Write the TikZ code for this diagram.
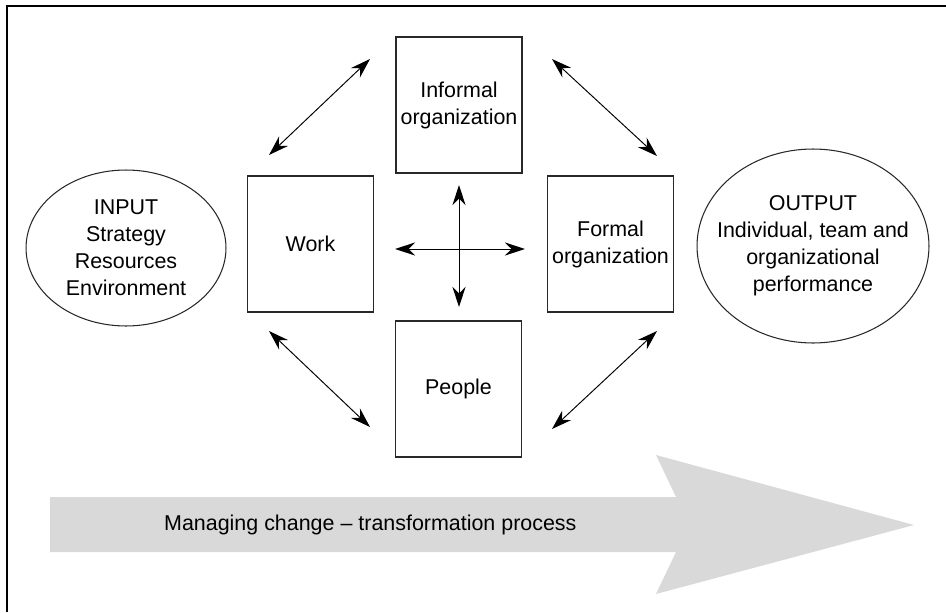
\documentclass[tikz,border=0pt]{standalone}
\usepackage{fontspec}
\setmainfont{Liberation Sans}
\usepackage{xcolor}
\usepackage{tikz}
\usetikzlibrary{arrows.meta}
\usetikzlibrary{shapes.geometric}
\definecolor{bandgray}{RGB}{217,217,217}
\definecolor{linegray}{RGB}{40,40,40}

\begin{document}
\begin{tikzpicture}[x=0.02cm,y=-0.02cm,
  font=\fontsize{12.2}{15.4}\selectfont,
  unit/.style={draw=linegray,line width=0.6pt,minimum width=2.52cm,minimum height=2.72cm,inner sep=0pt,align=center},
  oval/.style={draw=linegray,line width=0.6pt,ellipse,inner xsep=-0.4cm,inner ysep=-0.2cm,align=center},
  link/.style={line width=0.55pt,{Stealth[length=4mm,width=2.6mm,inset=1.3mm]}-{Stealth[length=4mm,width=2.6mm,inset=1.3mm]}}]
 	\useasboundingbox (0,0) rectangle (946,612);
 	\draw[line width=0.9pt] (7,612) -- (7,6) -- (946,6);
 	\fill[bandgray] (50,497) -- (676,497) -- (656,455) -- (914,525) -- (656,594) -- (676,552) -- (50,552) -- cycle;
 	\node[anchor=west] (process) at (158,525) {Managing change -- transformation process};
 	\node[unit] (informal) at (459,105) {Informal\\organization};
 	\node[unit] (work) at (310.5,244) {Work};
 	\node[unit] (formal) at (610.5,244) {Formal\\organization};
 	\node[unit] (people) at (458.5,389) {People};
 	\node[oval,minimum width=4cm,minimum height=3.12cm] (input) at (126,248) {INPUT\\Strategy\\Resources\\Environment};
 	\node[oval,minimum width=4.64cm,minimum height=3.88cm] (output) at (813,246) {OUTPUT\\Individual, team and\\organizational\\performance};
 	\coordinate (tl1) at (269,155); \coordinate (tl2) at (370,59);
 	\coordinate (tr1) at (552,59); \coordinate (tr2) at (657,156);
 	\coordinate (bl1) at (269,331); \coordinate (bl2) at (370,427);
 	\coordinate (br1) at (552,429); \coordinate (br2) at (657,331);
 	\coordinate (up) at (459,185); \coordinate (down) at (459,307);
 	\coordinate (left) at (395,249); \coordinate (right) at (525,249);
 	\draw[link] (tl1) -- (tl2);
 	\draw[link] (tr1) -- (tr2);
 	\draw[link] (bl1) -- (bl2);
 	\draw[link] (br1) -- (br2);
 	\draw[link] (up) -- (down);
 	\draw[link] (left) -- (right);
\end{tikzpicture}
\end{document}
